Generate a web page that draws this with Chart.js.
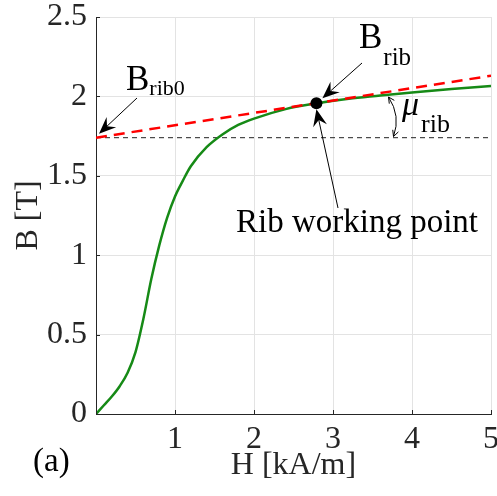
<!DOCTYPE html>
<html>
<head>
<meta charset="utf-8">
<script src="https://cdn.jsdelivr.net/npm/chart.js@4.4.1/dist/chart.umd.min.js"></script>
<style>
  html, body { margin: 0; padding: 0; background: #fff; }
  #wrap { width: 497px; height: 496px; }
</style>
</head>
<body>
<div id="wrap"><canvas id="bh"></canvas></div>
<script>
// B-H curve
const hValues = [0, 0.1, 0.2, 0.3, 0.4, 0.5, 0.6, 0.7, 0.8, 0.9, 1.0, 1.1, 1.2, 1.4, 1.6, 1.8, 2.0, 2.4, 2.8, 3.2, 3.6, 4.0, 4.5, 5.0];
const bValues = [0, 0.055, 0.11, 0.175, 0.26, 0.39, 0.6, 0.85, 1.06, 1.235, 1.37, 1.47, 1.56, 1.68, 1.76, 1.82, 1.86, 1.92, 1.957, 1.985, 2.005, 2.025, 2.047, 2.066];

// tangent at the rib working point
const tangentH = [0, 5];
const tangentB = [1.74, 2.13];

// B_rib0 level
const levelH = [0, 5];
const levelB = [1.74, 1.74];

// working point
const workH = [2.79];
const workB = [1.957];

const xTicks = [0, 1, 2, 3, 4, 5];
const yTicks = [0, 0.5, 1, 1.5, 2, 2.5];

const serif = "'Liberation Serif', 'Times New Roman', serif";
const axisColor = '#262626';

const toPts = function (xs, ys) {
    return xs.map((x, i) => ({ x: x, y: ys[i] }));
};

// filled arrow head, matlab "vback" style
function arrow(ctx, x1, y1, x2, y2) {
    const a = Math.atan2(y2 - y1, x2 - x1);
    const len = 17, half = 7, notch = 11;
    ctx.beginPath();
    ctx.moveTo(x1, y1);
    ctx.lineTo(x2 - Math.cos(a) * notch, y2 - Math.sin(a) * notch);
    ctx.lineWidth = 1;
    ctx.strokeStyle = '#000';
    ctx.stroke();
    ctx.beginPath();
    ctx.moveTo(x2, y2);
    ctx.lineTo(x2 - Math.cos(a) * len - Math.sin(a) * half, y2 - Math.sin(a) * len + Math.cos(a) * half);
    ctx.lineTo(x2 - Math.cos(a) * notch, y2 - Math.sin(a) * notch);
    ctx.lineTo(x2 - Math.cos(a) * len + Math.sin(a) * half, y2 - Math.sin(a) * len - Math.cos(a) * half);
    ctx.closePath();
    ctx.fillStyle = '#000';
    ctx.fill();
}

// small open arrow head
function openHead(ctx, x, y, a) {
    const len = 6, half = 3;
    ctx.beginPath();
    ctx.moveTo(x - Math.cos(a) * len - Math.sin(a) * half, y - Math.sin(a) * len + Math.cos(a) * half);
    ctx.lineTo(x, y);
    ctx.lineTo(x - Math.cos(a) * len + Math.sin(a) * half, y - Math.sin(a) * len - Math.cos(a) * half);
    ctx.stroke();
}

function subText(ctx, main, sub, x, y, mainFont, subFont, dx, dy) {
    ctx.textAlign = 'left';
    ctx.textBaseline = 'alphabetic';
    ctx.font = mainFont;
    ctx.fillText(main, x, y);
    const w = ctx.measureText(main).width;
    ctx.font = subFont;
    ctx.fillText(sub, x + w + dx, y + dy);
}

// inward ticks like matlab
const innerTicks = {
    id: 'innerTicks',
    afterDraw(chart) {
        const ctx = chart.ctx;
        const xs = chart.scales.x, ys = chart.scales.y;
        ctx.save();
        ctx.strokeStyle = axisColor;
        ctx.lineWidth = 1;
        ctx.beginPath();
        yTicks.forEach(v => {
            const p = Math.round(ys.getPixelForValue(v)) + 0.5;
            ctx.moveTo(xs.left, p);
            ctx.lineTo(xs.left + 4, p);
        });
        xTicks.forEach(v => {
            const p = Math.round(xs.getPixelForValue(v)) + 0.5;
            ctx.moveTo(p, ys.bottom);
            ctx.lineTo(p, ys.bottom - 4);
        });
        ctx.stroke();
        ctx.restore();
    }
};

const notes = {
    id: 'notes',
    afterDraw(chart) {
        const ctx = chart.ctx;
        const xs = chart.scales.x, ys = chart.scales.y;
        const wx = xs.getPixelForValue(workH[0]);
        const wy = ys.getPixelForValue(workB[0]);
        const x0 = xs.getPixelForValue(tangentH[0]);
        const y0 = ys.getPixelForValue(tangentB[0]);
        ctx.save();
        ctx.fillStyle = '#000';

        // B_rib0
        subText(ctx, 'B', 'rib0', 126, 90, '35px ' + serif, '22px ' + serif, 0, 5);
        arrow(ctx, 137, 98, x0 + 3, y0 - 4);

        // B_rib
        subText(ctx, 'B', 'rib', 359, 48, '35px ' + serif, '25px ' + serif, 1, 17);
        arrow(ctx, 362, 63, wx + 6, wy - 5);

        // Rib working point
        ctx.font = '33px ' + serif;
        ctx.textAlign = 'left';
        ctx.textBaseline = 'alphabetic';
        ctx.fillText('Rib working point', 236, 232);
        arrow(ctx, 338, 208, wx, wy + 6);

        // mu_rib with curved double arrow
        ctx.font = 'italic 34px ' + serif;
        ctx.fillText('\u03bc', 402, 115);
        ctx.font = '26px ' + serif;
        ctx.fillText('rib', 421, 132);
        ctx.beginPath();
        ctx.strokeStyle = '#000';
        ctx.lineWidth = 1;
        const ax = 388.5, ay = 97, bx = 393.5, by = 136.5, cx = 401, cy = 116;
        ctx.moveTo(ax, ay);
        ctx.quadraticCurveTo(cx, cy, bx, by);
        ctx.stroke();
        openHead(ctx, ax, ay, Math.atan2(ay - cy, ax - cx));
        openHead(ctx, bx, by, Math.atan2(by - cy, bx - cx));

        // (a)
        ctx.font = '33px ' + serif;
        ctx.fillText('(a)', 33, 471);
        ctx.restore();
    }
};

new Chart(document.getElementById('bh'), {
    type: 'scatter',
    data: {
        datasets: [
            {
                label: 'working point',
                data: toPts(workH, workB),
                pointRadius: 6,
                pointBackgroundColor: '#000',
                pointBorderWidth: 0,
                showLine: false
            },
            {
                label: 'tangent',
                data: toPts(tangentH, tangentB),
                showLine: true,
                borderColor: '#ff0000',
                borderWidth: 2.5,
                borderDash: [11, 7],
                pointRadius: 0
            },
            {
                label: 'B-H',
                data: toPts(hValues, bValues),
                showLine: true,
                borderColor: '#168a16',
                borderWidth: 2.5,
                cubicInterpolationMode: 'monotone',
                pointRadius: 0
            },
            {
                label: 'B_rib0',
                data: toPts(levelH, levelB),
                showLine: true,
                borderColor: '#222',
                borderWidth: 1,
                borderDash: [5, 4],
                pointRadius: 0
            }
        ]
    },
    options: {
        responsive: true,
        maintainAspectRatio: false,
        animation: false,
        layout: { padding: { top: 17, right: 4, left: 0, bottom: 0 } },
        plugins: {
            legend: { display: false },
            tooltip: { enabled: false }
        },
        scales: {
            x: {
                type: 'linear',
                min: 0,
                max: 5,
                afterBuildTicks: s => { s.ticks = xTicks.map(v => ({ value: v })); },
                afterFit: s => { s.height = 82; s.paddingLeft = 0; s.paddingRight = 0; },
                ticks: {
                    font: { family: serif, size: 32 },
                    color: axisColor,
                    padding: 6,
                    maxRotation: 0,
                    autoSkip: false,
                    callback: v => (v === 0 ? '' : String(v))
                },
                grid: { color: '#e3e3e3', drawTicks: false },
                border: { color: axisColor, width: 1 },
                title: {
                    display: true,
                    text: 'H [kA/m]',
                    font: { family: serif, size: 32 },
                    color: axisColor,
                    padding: { top: 0, bottom: 11 }
                }
            },
            y: {
                type: 'linear',
                min: 0,
                max: 2.5,
                afterBuildTicks: s => { s.ticks = yTicks.map(v => ({ value: v })); },
                afterFit: s => { s.width = 96; s.paddingTop = 0; s.paddingBottom = 0; },
                ticks: {
                    font: { family: serif, size: 32 },
                    color: axisColor,
                    padding: 9,
                    autoSkip: false,
                    callback: v => String(v)
                },
                grid: { color: '#e3e3e3', drawTicks: false },
                border: { color: axisColor, width: 1 },
                title: {
                    display: true,
                    text: 'B [T]',
                    font: { family: serif, size: 32 },
                    color: axisColor,
                    padding: { top: 9, bottom: 0 }
                }
            }
        }
    },
    plugins: [innerTicks, notes]
});
</script>
</body>
</html>
